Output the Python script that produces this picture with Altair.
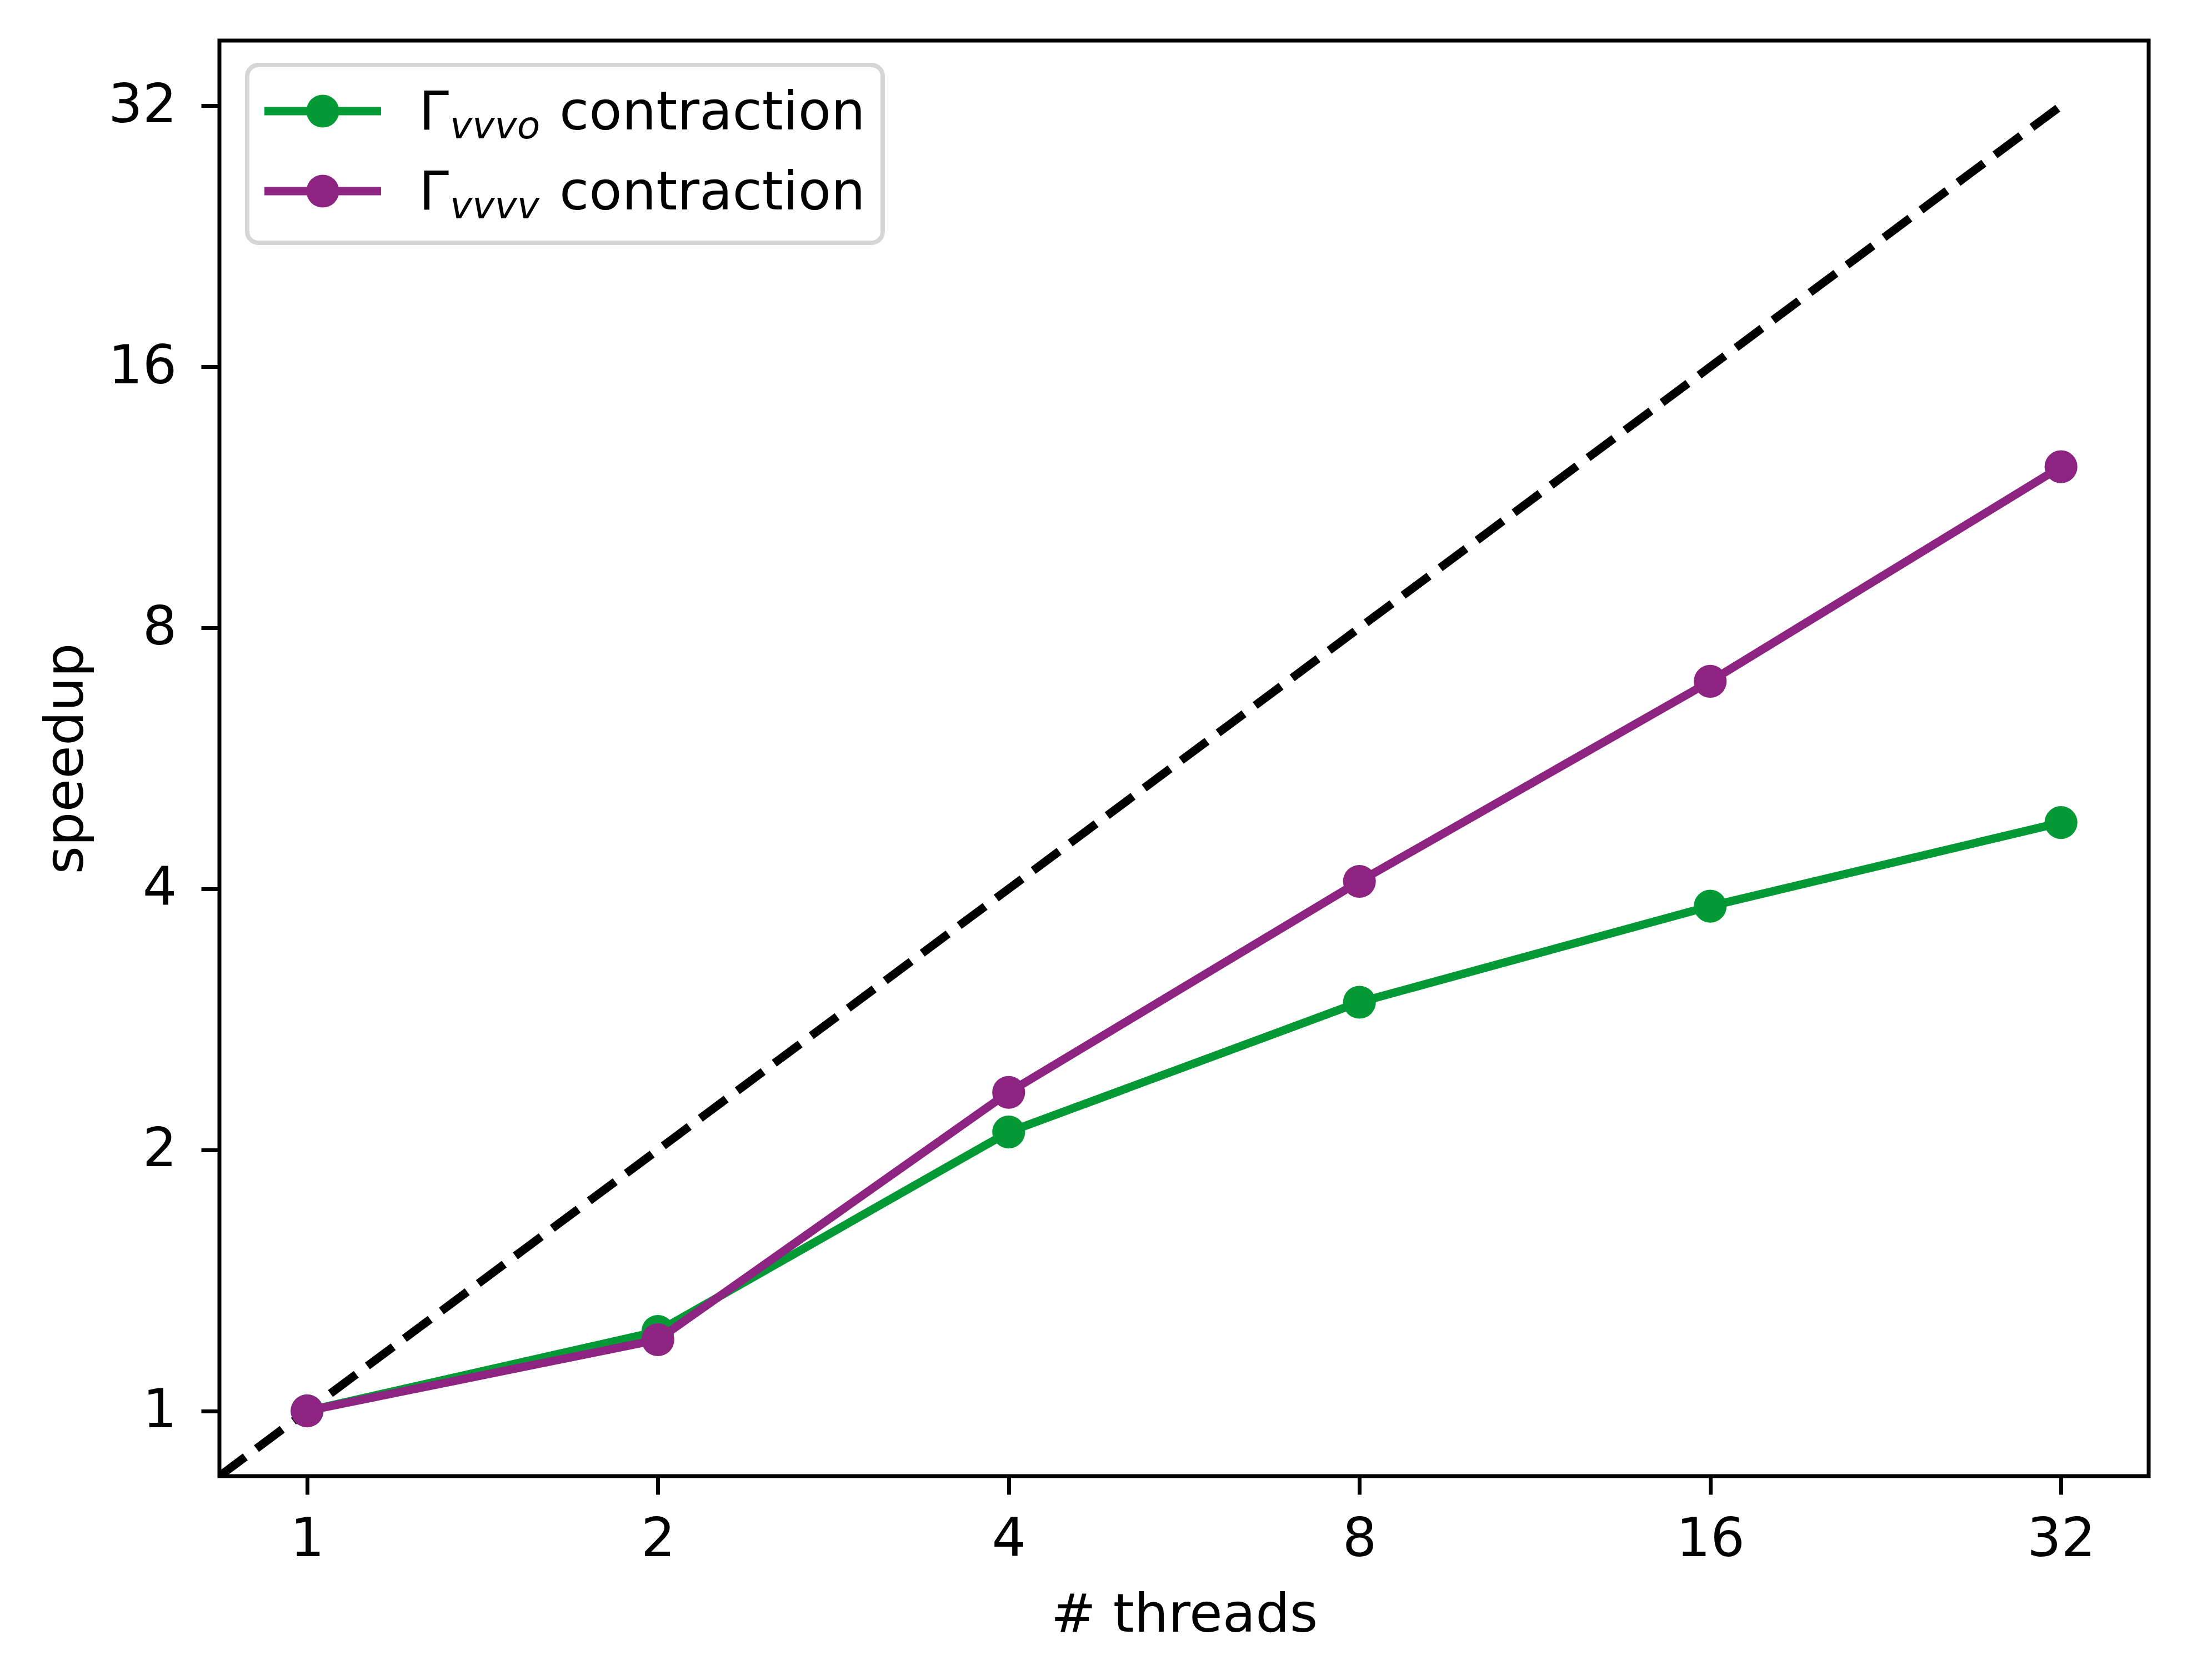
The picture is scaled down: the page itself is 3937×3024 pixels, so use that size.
import altair as alt
import pandas as pd

threads = [1, 2, 4, 8, 16, 32]
speedup_vvvo = [1.0, 1.235, 2.097, 2.96, 3.82, 4.77]
speedup_vvvv = [1.0, 1.208, 2.33, 4.08, 6.94, 12.27]
ideal_x = [2 ** -0.25, 32]
ideal_y = [2 ** -0.25, 32]
series_names = ["vvvo", "vvvv"]
series_colors = ["#039935", "#8e2482"]
tick_values = [1, 2, 4, 8, 16, 32]

W, H = 3473, 2584
FONT = "DejaVu Sans"
FS = 97
dom = [2 ** -0.25, 2 ** 5.25]

df = pd.DataFrame({
    "threads": threads * 2,
    "speedup": speedup_vvvo + speedup_vvvv,
    "series": [series_names[0]] * 6 + [series_names[1]] * 6,
})
ideal = pd.DataFrame({"x": ideal_x, "y": ideal_y})

xscale = alt.Scale(type="log", base=2, domain=dom, nice=False)
yscale = alt.Scale(type="log", base=2, domain=dom, nice=False)

xaxis = alt.Axis(values=tick_values, format="d", title="# threads", grid=False, domain=False,
                 tickSize=33, tickWidth=7, tickColor="black", labelFont=FONT, labelFontSize=FS,
                 labelColor="black", labelPadding=33, labelFlush=False, labelOverlap=False,
                 titleFont=FONT, titleFontSize=FS, titleFontWeight="normal", titleColor="black",
                 titleX=W / 2, titleY=279, titleBaseline="alphabetic", titleAlign="center")
yaxis = alt.Axis(values=tick_values, format="d", title="speedup", grid=False, domain=False,
                 tickSize=33, tickWidth=7, tickColor="black", labelFont=FONT, labelFontSize=FS,
                 labelColor="black", labelPadding=44, labelFlush=False, labelOverlap=False,
                 titleFont=FONT, titleFontSize=FS, titleFontWeight="normal", titleColor="black",
                 titleX=-247, titleY=H / 2, titleAngle=270, titleBaseline="alphabetic",
                 titleAlign="center")

dash = alt.Chart(ideal).mark_line(color="black", strokeWidth=15, strokeDash=[58, 25], clip=True).encode(
    x=alt.X("x:Q", scale=xscale, axis=xaxis),
    y=alt.Y("y:Q", scale=yscale, axis=yaxis),
)

layers = [dash]
for name, col in zip(series_names, series_colors):
    base = alt.Chart(df).transform_filter(alt.datum.series == name)
    line = base.mark_line(color=col, strokeWidth=15).encode(
        x=alt.X("threads:Q", scale=xscale), y=alt.Y("speedup:Q", scale=yscale))
    pts = base.mark_point(color=col, filled=True, opacity=1, size=3500).encode(
        x=alt.X("threads:Q", scale=xscale), y=alt.Y("speedup:Q", scale=yscale))
    layers += [line, pts]

# custom legend (matplotlib style)
one = pd.DataFrame({"a": [0]})
frame = alt.Chart(one).mark_rect(fill="white", fillOpacity=0.8, stroke="#d6d6d6", strokeWidth=8,
                                 cornerRadius=20).encode(
    x=alt.value(50), x2=alt.value(1194), y=alt.value(44), y2=alt.value(364))
layers.append(frame)
row_y = [127, 271]
for i, (name, col) in enumerate(zip(series_names, series_colors)):
    ry = row_y[i]
    layers.append(alt.Chart(one).mark_rule(color=col, strokeWidth=15).encode(
        x=alt.value(81), x2=alt.value(291), y=alt.value(ry)))
    layers.append(alt.Chart(one).mark_point(color=col, filled=True, opacity=1, size=3500).encode(
        x=alt.value(186), y=alt.value(ry)))
    layers.append(alt.Chart(one).mark_text(align="left", baseline="alphabetic", font=FONT,
                                           fontSize=FS, color="black").encode(
        x=alt.value(359), y=alt.value(ry + 33), text=alt.value("Γ")))
    layers.append(alt.Chart(one).mark_text(align="left", baseline="alphabetic", font=FONT,
                                           fontSize=68, fontStyle="italic", color="black").encode(
        x=alt.value(415), y=alt.value(ry + 49), text=alt.value(name)))
    layers.append(alt.Chart(one).mark_text(align="left", baseline="alphabetic", font=FONT,
                                           fontSize=FS, color="black").encode(
        x=alt.value(612), y=alt.value(ry + 33), text=alt.value("contraction")))

chart = alt.layer(*layers).properties(
    width=W, height=H,
    autosize=alt.AutoSizeParams(type="none"),
    padding={"left": 387, "top": 65, "right": 61, "bottom": 359},
).configure(background="white").configure_view(stroke="black", strokeWidth=7)

chart.save("out.html", embed_options={"renderer": "svg", "actions": False})
